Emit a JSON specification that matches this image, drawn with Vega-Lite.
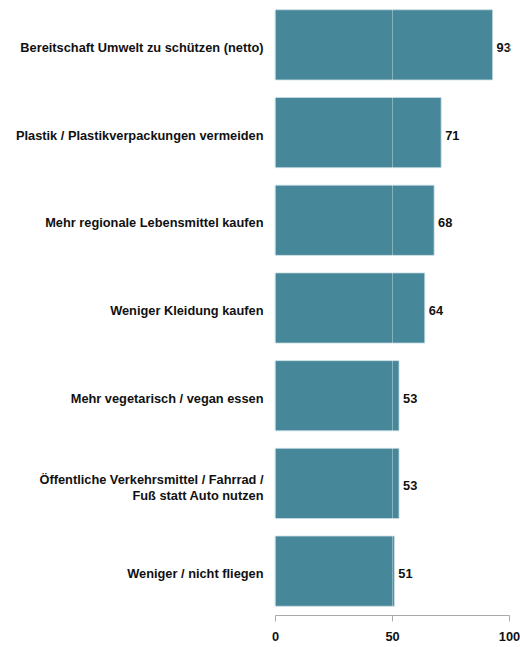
{
  "$schema": "https://vega.github.io/schema/vega-lite/v6.json",
  "autosize": "none",
  "width": 234,
  "height": 614,
  "padding": {"left": 275, "top": 1, "right": 11, "bottom": 32},
  "background": "white",
  "config": {
    "font": "Liberation Sans",
    "view": {"stroke": null}
  },
  "data": {
    "values": [
      {"label": "Bereitschaft Umwelt zu schützen (netto)", "value": 93},
      {"label": "Plastik / Plastikverpackungen vermeiden", "value": 71},
      {"label": "Mehr regionale Lebensmittel kaufen", "value": 68},
      {"label": "Weniger Kleidung kaufen", "value": 64},
      {"label": "Mehr vegetarisch / vegan essen", "value": 53},
      {"label": "Öffentliche Verkehrsmittel / Fahrrad /|Fuß statt Auto nutzen", "value": 53},
      {"label": "Weniger / nicht fliegen", "value": 51}
    ]
  },
  "encoding": {
    "y": {
      "field": "label",
      "type": "nominal",
      "sort": null,
      "scale": {"paddingInner": 0.2, "paddingOuter": 0.1},
      "axis": {
        "title": null,
        "domain": false,
        "ticks": false,
        "labelPadding": 12,
        "labelOffset": {"condition": {"test": "indexof(datum.value, '|') >= 0", "value": -3}, "value": 3},
        "labelFont": "Liberation Sans",
        "labelFontSize": 12.8,
        "labelFontWeight": "bold",
        "labelColor": "#111111",
        "labelLimit": 300,
        "labelLineHeight": 16,
        "labelExpr": "split(datum.label, '|')"
      }
    }
  },
  "layer": [
    {
      "mark": {"type": "bar", "color": "#46879a", "stroke": "#c8dde3", "strokeWidth": 0.8},
      "encoding": {
        "x": {
          "field": "value",
          "type": "quantitative",
          "scale": {"domain": [0, 100]},
          "axis": {
            "title": null,
            "values": [0, 50, 100],
            "grid": true,
            "gridColor": "#ffffff",
            "gridOpacity": 0.35,
            "zindex": 1,
            "domainColor": "#aaaaaa",
            "tickColor": "#aaaaaa",
            "tickSize": 6,
            "labelPadding": 9,
            "labelFont": "Liberation Sans",
            "labelFontSize": 12.8,
            "labelFontWeight": "bold",
            "labelColor": "#111111",
            "labelFlush": false,
            "labelOverlap": false
          }
        }
      }
    },
    {
      "mark": {"type": "text", "align": "left", "baseline": "middle", "dx": 4, "dy": 3, "font": "Liberation Sans", "fontSize": 12.8, "fontWeight": "bold", "color": "#111111"},
      "encoding": {
        "x": {"field": "value", "type": "quantitative"},
        "text": {"field": "value", "type": "quantitative"}
      }
    }
  ]
}
